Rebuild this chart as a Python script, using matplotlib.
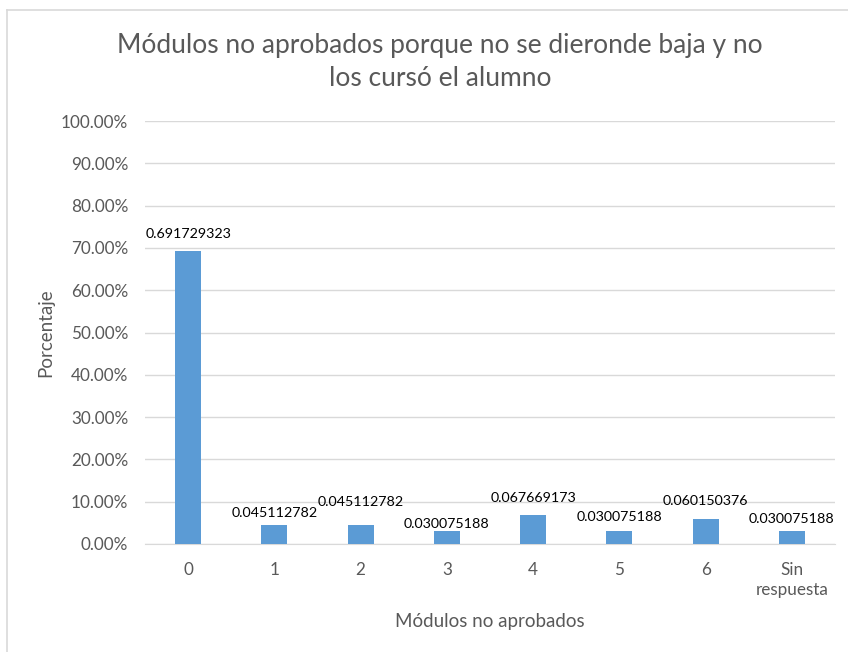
import matplotlib
matplotlib.use("Agg")
import matplotlib.pyplot as plt
from matplotlib.ticker import FuncFormatter
from matplotlib.lines import Line2D

categories = ["0", "1", "2", "3", "4", "5", "6", "Sin\nrespuesta"]
values = [0.691729323, 0.045112782, 0.045112782, 0.030075188,
          0.067669173, 0.030075188, 0.060150376, 0.030075188]
# vertical offset (points) of each value label centre above its bar
label_offsets = [12.5, 8.9, 16.8, 5.5, 12.7, 10.4, 12.7, 9.1]

plt.rcParams["font.family"] = ["Lato", "DejaVu Sans"]

fig = plt.figure(figsize=(8.48, 6.52), dpi=100)
ax = fig.add_axes([145 / 848, 1 - 544 / 652, 690 / 848, 423 / 652])

x = list(range(len(categories)))
bar_color = "#5B9BD5"
ax.bar(x, values, width=0.30, color=bar_color, zorder=3)

for xi, v, off in zip(x, values, label_offsets):
    ax.annotate(f"{v:.9f}", (xi, v), xytext=(0, off), textcoords="offset points",
                ha="center", va="center", fontsize=10.3, color="#000000")

ax.set_xlim(-0.5, len(categories) - 0.5)
ax.set_ylim(0, 1.0)
ax.set_yticks([i / 10 for i in range(11)])
ax.yaxis.set_major_formatter(FuncFormatter(lambda v, p: f"{v * 100:.2f}%"))
ax.set_xticks(x)
ax.set_xticklabels(categories, linespacing=1.3)

ax.grid(axis="y", color="#D9D9D9", linewidth=1, zorder=0)
for s in ["top", "right", "left"]:
    ax.spines[s].set_visible(False)
ax.spines["bottom"].set_color("#D9D9D9")
ax.tick_params(axis="both", length=0, colors="#595959", labelsize=12.3)
ax.tick_params(axis="y", pad=12)
ax.tick_params(axis="x", pad=13)

ax.set_ylabel("Porcentaje", fontsize=13.5, color="#595959", labelpad=5)
ax.set_xlabel("Módulos no aprobados", fontsize=13.5, color="#595959", labelpad=11)

fig.text(0.519, 1 - 62 / 652, "Módulos no aprobados porque no se dieronde baja y no\nlos cursó el alumno",
         ha="center", va="center", fontsize=19, color="#595959", linespacing=1.42)

# chart frame edges
fig.add_artist(Line2D([6.5 / 848, 6.5 / 848], [0, 1 - 10 / 652], transform=fig.transFigure,
                      color="#D9D9D9", linewidth=1.2))
fig.add_artist(Line2D([6.5 / 848, 1], [1 - 10 / 652, 1 - 10 / 652], transform=fig.transFigure,
                      color="#D9D9D9", linewidth=1.2))

fig.savefig("out.png", dpi=100, facecolor="white")
